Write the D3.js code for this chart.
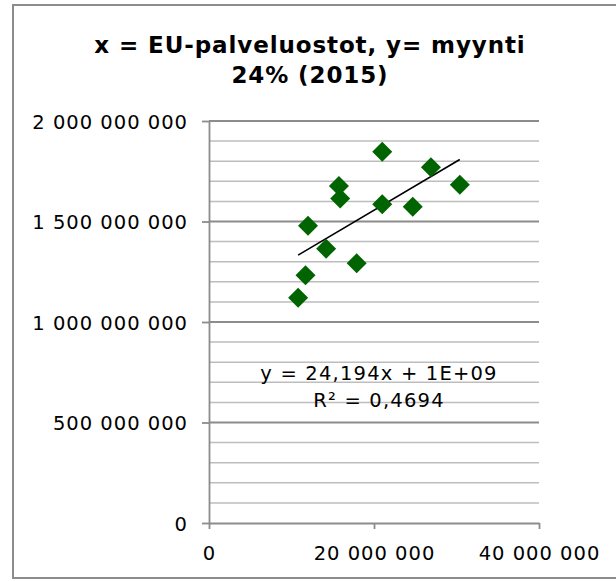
<!DOCTYPE html>
<html>
<head>
<meta charset="utf-8">
<script src="https://cdn.jsdelivr.net/npm/d3@7"></script>
<style>
  body { margin: 0; background: #fff; }
  text { font-family: "DejaVu Sans", Verdana, sans-serif; fill: #000; }
</style>
</head>
<body>
<div id="chart"></div>
<script>
// EU-palveluostot (x) vs myynti 24% (y), 2015
const xValues = [21.0e6, 26.9e6, 15.75e6, 30.4e6, 15.9e6, 21.0e6, 24.7e6, 12.0e6, 14.2e6, 17.9e6, 11.7e6, 10.8e6];
const yValues = [1847e6, 1770e6, 1677e6, 1683e6, 1615e6, 1586e6, 1574e6, 1479e6, 1365e6, 1292e6, 1232e6, 1121e6];
const xTicks = [0, 20e6, 40e6];
const yTicks = [0, 500e6, 1000e6, 1500e6, 2000e6];
const titleLines = ["x = EU-palveluostot, y= myynti", "24% (2015)"];
const equationLines = ["y = 24,194x + 1E+09", "R² = 0,4694"];

const width = 616;
const height = 581;
const plot = { left: 209, right: 539, top: 121, bottom: 523 };

const fi = d3.formatLocale({ decimal: ",", thousands: " ", grouping: [3], currency: ["", " €"] });
const fmt = fi.format(",d");

const svg = d3.select("#chart")
    .append("svg")
    .attr("width", width)
    .attr("height", height);

// chart frame
svg.append("rect")
    .attr("x", 13).attr("y", 5)
    .attr("width", 620).attr("height", 573)
    .attr("fill", "#fff")
    .attr("stroke", "#8c8c8c")
    .attr("stroke-width", 2);

const x = d3.scaleLinear().domain([0, 40e6]).range([plot.left, plot.right]);
const y = d3.scaleLinear().domain([0, 2000e6]).range([plot.bottom, plot.top]);

// minor gridlines every 100 000 000
const minor = d3.range(100e6, 2000e6, 100e6).filter(v => v % 500e6 !== 0);
svg.append("g")
    .selectAll("line")
    .data(minor)
    .enter().append("line")
    .attr("x1", plot.left).attr("x2", plot.right)
    .attr("y1", d => y(d)).attr("y2", d => y(d))
    .attr("stroke", "#bdbdbd")
    .attr("stroke-width", 1.5);

// major gridlines
svg.append("g")
    .selectAll("line")
    .data(yTicks.filter(v => v > 0))
    .enter().append("line")
    .attr("x1", plot.left).attr("x2", plot.right)
    .attr("y1", d => y(d)).attr("y2", d => y(d))
    .attr("stroke", "#8c8c8c")
    .attr("stroke-width", 1.8);

// y axis
const yAxis = svg.append("g")
    .attr("transform", `translate(${plot.left},0)`)
    .call(d3.axisLeft(y).tickValues(yTicks).tickFormat(fmt).tickSize(7).tickSizeOuter(0));
yAxis.select(".domain").attr("stroke", "#8c8c8c").attr("stroke-width", 1.8);
yAxis.selectAll(".tick line").attr("stroke", "#8c8c8c").attr("stroke-width", 1.8);
yAxis.selectAll(".tick text")
    .attr("x", -21)
    .attr("dy", "0.36em")
    .style("font-size", "19.5px")
    .style("letter-spacing", "1px")
    .attr("fill", "#000");

// x axis
const xAxis = svg.append("g")
    .attr("transform", `translate(0,${plot.bottom})`)
    .call(d3.axisBottom(x).tickValues(xTicks).tickFormat(fmt).tickSize(6).tickSizeOuter(0));
xAxis.select(".domain").attr("stroke", "#8c8c8c").attr("stroke-width", 1.8);
xAxis.selectAll(".tick line").attr("stroke", "#8c8c8c").attr("stroke-width", 1.8);
xAxis.selectAll(".tick text")
    .attr("y", 37)
    .attr("dy", 0)
    .style("font-size", "19.5px")
    .style("letter-spacing", "1px")
    .attr("fill", "#000");
svg.selectAll(".tick text").style("font-family", "'DejaVu Sans', Verdana, sans-serif");

// linear trendline (least squares)
const mx = d3.mean(xValues), my = d3.mean(yValues);
const slope = d3.sum(xValues, (v, i) => (v - mx) * (yValues[i] - my)) / d3.sum(xValues, v => (v - mx) * (v - mx));
const intercept = my - slope * mx;
const xExt = d3.extent(xValues);
svg.append("line")
    .attr("x1", x(xExt[0])).attr("y1", y(intercept + slope * xExt[0]))
    .attr("x2", x(xExt[1])).attr("y2", y(intercept + slope * xExt[1]))
    .attr("stroke", "#000")
    .attr("stroke-width", 1.6);

// markers
const r = 10;
svg.append("g")
    .selectAll("path")
    .data(xValues.map((v, i) => ({ x: v, y: yValues[i] })))
    .enter().append("path")
    .attr("d", d => {
        const cx = x(d.x), cy = y(d.y);
        return `M${cx},${cy - r}L${cx + r},${cy}L${cx},${cy + r}L${cx - r},${cy}Z`;
    })
    .attr("fill", "#006400");

// equation label
svg.append("g")
    .selectAll("text")
    .data(equationLines)
    .enter().append("text")
    .attr("x", 379)
    .attr("y", (d, i) => 380 + i * 27)
    .attr("text-anchor", "middle")
    .style("font-size", "19.5px")
    .style("letter-spacing", "1.2px")
    .text(d => d);

// title
svg.append("g")
    .selectAll("text")
    .data(titleLines)
    .enter().append("text")
    .attr("x", 310)
    .attr("y", (d, i) => 53 + i * 30)
    .attr("text-anchor", "middle")
    .style("font-size", "23px")
    .style("font-weight", "bold")
    .style("letter-spacing", "0.9px")
    .text(d => d);
</script>
</body>
</html>
